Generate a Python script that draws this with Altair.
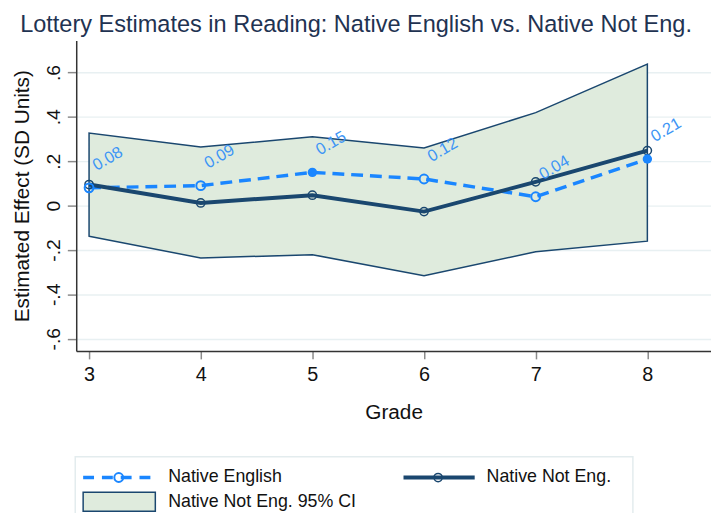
import altair as alt
import pandas as pd

# ---- data ----
grades = [3, 4, 5, 6, 7, 8]
native_english = [0.08, 0.09, 0.15, 0.12, 0.04, 0.21]
native_english_filled = [False, False, True, False, False, True]
native_not_eng = [0.095, 0.012, 0.047, -0.027, 0.107, 0.248]
ci_low = [-0.138, -0.236, -0.221, -0.316, -0.208, -0.160]
ci_high = [0.327, 0.264, 0.310, 0.260, 0.419, 0.638]
y_ticks = [-0.6, -0.4, -0.2, 0, 0.2, 0.4, 0.6]

BLUE = "#1A86FF"
LABEL_BLUE = "#3D95F5"
NAVY = "#1A476F"
CI_FILL = "#DFEBDD"
GRID = "#E8F0F2"
FONT = "Liberation Sans"

df = pd.DataFrame({
    "grade": grades,
    "eng": native_english,
    "filled": native_english_filled,
    "noteng": native_not_eng,
    "lo": ci_low,
    "hi": ci_high,
})
df["label"] = [f"{v:.2f}" for v in native_english]

W, H = 642, 314
xs = alt.Scale(domain=[2.885, 8.57], nice=False, zero=False)
ys = alt.Scale(domain=[-0.655, 0.744], nice=False, zero=False)

x_axis = alt.Axis(
    values=grades, format="d", title="Grade", grid=False,
    tickSize=8, tickColor="#8A8A8A", tickWidth=1.5,
    domainColor="#333333", domainWidth=1.5,
    labelFontSize=20, labelFont=FONT, labelColor="#111111", labelPadding=6,
    titleFontSize=21, titleFont=FONT, titleFontWeight="normal", titleColor="#111111",
    titleBaseline="middle", titleY=62,
)
y_axis = alt.Axis(
    values=y_ticks, title="Estimated Effect (SD Units)",
    labelExpr="(datum.value < 0 ? '-' : '') + (abs(datum.value) < 0.001 ? '0' : '.' + round(abs(datum.value) * 10))",
    labelAngle=270, labelAlign="center", labelBaseline="bottom",
    grid=True, gridColor=GRID, gridWidth=1.5,
    tickSize=9, tickColor="#8A8A8A", tickWidth=1.5,
    domainColor="#333333", domainWidth=1.5,
    labelFontSize=19.5, labelFont=FONT, labelColor="#111111", labelPadding=4,
    titleFontSize=21, titleFont=FONT, titleFontWeight="normal", titleColor="#111111",
    titleAngle=270, titleAlign="center", titleBaseline="middle", titleX=-54, titleY=157,
)

X = alt.X("grade:Q", scale=xs, axis=x_axis)
base = alt.Chart(df)

area = base.mark_area(fill=CI_FILL, stroke=NAVY, strokeWidth=1.5).encode(
    x=X, y=alt.Y("lo:Q", scale=ys, axis=y_axis), y2="hi:Q"
)
eng_line = base.mark_line(color=BLUE, strokeWidth=3.5, strokeDash=[12, 7]).encode(
    x=X, y=alt.Y("eng:Q", scale=ys, axis=y_axis)
)
noteng_line = base.mark_line(color=NAVY, strokeWidth=4).encode(
    x=X, y=alt.Y("noteng:Q", scale=ys, axis=y_axis)
)
noteng_pts = base.mark_point(shape="circle", filled=False, color=NAVY, size=70, strokeWidth=1.5, opacity=1).encode(
    x=X, y=alt.Y("noteng:Q", scale=ys, axis=y_axis)
)
eng_hollow = base.transform_filter("!datum.filled").mark_point(
    shape="circle", filled=False, color=BLUE, size=80, strokeWidth=2, opacity=1
).encode(x=X, y=alt.Y("eng:Q", scale=ys, axis=y_axis))
eng_solid = base.transform_filter("datum.filled").mark_point(
    shape="circle", filled=True, color=BLUE, size=90, opacity=1
).encode(x=X, y=alt.Y("eng:Q", scale=ys, axis=y_axis))
eng_labels = base.mark_text(
    angle=330, align="left", baseline="alphabetic", dx=15, dy=-11,
    fontSize=16.5, font=FONT, color=LABEL_BLUE
).encode(x=X, y=alt.Y("eng:Q", scale=ys, axis=y_axis), text="label:N")

# ---- legend (drawn below the plot) ----
one = alt.Chart(pd.DataFrame({"k": [0]}))
R1, R2 = 442, 467
leg_box = one.mark_rect(fill="white", stroke="#E3ECEE", strokeWidth=1.5).encode(
    x=alt.value(-1), x2=alt.value(563), y=alt.value(421), y2=alt.value(500)
)
leg_eng_line = one.mark_rule(color=BLUE, strokeWidth=3.5, strokeDash=[11, 8]).encode(
    x=alt.value(7), x2=alt.value(80), y=alt.value(R1)
)
leg_eng_pt = one.mark_point(shape="circle", filled=False, color=BLUE, size=80, strokeWidth=2, opacity=1).encode(
    x=alt.value(43), y=alt.value(R1)
)
leg_not_line = one.mark_rule(color=NAVY, strokeWidth=4).encode(
    x=alt.value(331), x2=alt.value(403), y=alt.value(R1)
)
leg_not_pt = one.mark_point(shape="circle", filled=False, color=NAVY, size=70, strokeWidth=1.5, opacity=1).encode(
    x=alt.value(366), y=alt.value(R1)
)
leg_ci = one.mark_rect(fill=CI_FILL, stroke=NAVY, strokeWidth=1.5).encode(
    x=alt.value(7), x2=alt.value(80), y=alt.value(R2 - 10), y2=alt.value(R2 + 9)
)
def leg_text(t, x, y):
    return one.mark_text(text=t, align="left", baseline="middle", fontSize=18, font=FONT, color="#111111").encode(
        x=alt.value(x), y=alt.value(y)
    )

chart = alt.layer(
    area, eng_line, noteng_line, noteng_pts, eng_hollow, eng_solid, eng_labels,
    leg_box, leg_eng_line, leg_eng_pt, leg_not_line, leg_not_pt, leg_ci,
    leg_text("Native English", 93, R1),
    leg_text("Native Not Eng.", 415, R1),
    leg_text("Native Not Eng. 95% CI", 93, R2),
).properties(
    width=W, height=H,
    title=alt.TitleParams(
        text="Lottery Estimates in Reading: Native English vs. Native Not Eng.",
        fontSize=23.8, font=FONT, fontWeight="normal", color="#1F3352",
        anchor="middle", frame="group", dx=-38, offset=4,
    ),
    autosize=alt.AutoSizeParams(type="none"),
    padding={"left": 69, "top": 30, "right": 0, "bottom": 161},
    background="white",
).configure_view(stroke=None)

chart.save("out.html", embed_options={"renderer": "svg", "actions": False})
